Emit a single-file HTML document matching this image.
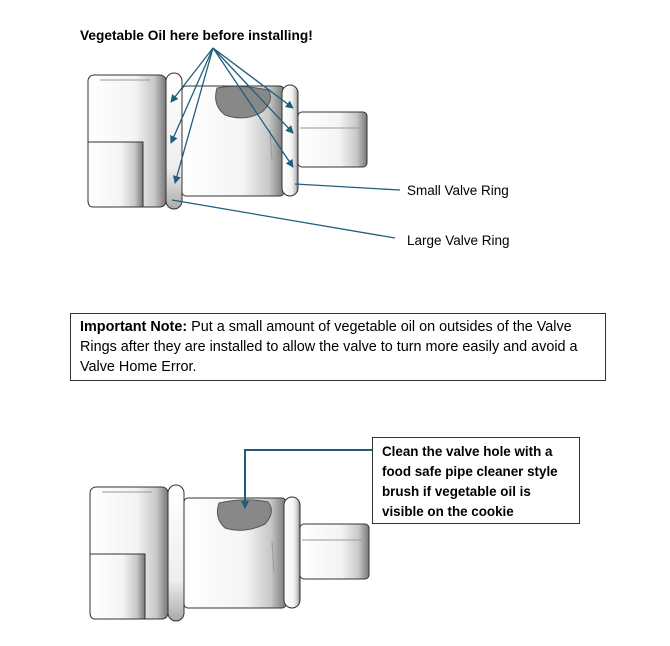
<!DOCTYPE html><html><head><style>body{margin:0;background:#fff}svg{display:block}text{font-family:"Liberation Sans",sans-serif}</style></head><body>
<svg width="670" height="646" viewBox="0 0 670 646" xmlns="http://www.w3.org/2000/svg">
<defs>
<linearGradient id="g" x1="0" x2="1"><stop offset="0" stop-color="#fff"/><stop offset=".6" stop-color="#f4f4f4"/><stop offset=".85" stop-color="#c8c8c8"/><stop offset="1" stop-color="#777"/></linearGradient>
<linearGradient id="gv" x1="0" y1="0" x2="0" y2="1"><stop offset="0" stop-color="#fff"/><stop offset=".7" stop-color="#eee"/><stop offset="1" stop-color="#aaa"/></linearGradient>
<marker id="a" markerWidth="8" markerHeight="8" refX="7" refY="4" orient="auto" markerUnits="userSpaceOnUse"><path d="M0,0L8,4L0,8z" fill="#1f5f7a"/></marker>
<g id="valve" stroke="#333" stroke-width="1">
<rect x="298" y="112" width="69" height="55" rx="4" fill="url(#g)"/>
<rect x="182" y="86" width="102" height="110" rx="4" fill="url(#g)"/>
<rect x="282" y="85" width="16" height="111" rx="8" fill="url(#g)"/>
<rect x="88" y="75" width="78" height="132" rx="6" fill="url(#g)"/>
<path d="M88,142H143V207H93Q88,207 88,200Z" fill="url(#g)"/>
<rect x="166" y="73" width="16" height="136" rx="8" fill="url(#gv)"/>
<line x1="100" y1="80" x2="150" y2="80" stroke="#999"/>
<line x1="300" y1="128" x2="360" y2="128" stroke="#999"/>
<line x1="270" y1="130" x2="272" y2="160" stroke="#999"/>
</g>
</defs>
<text x="80" y="40" font-size="13.7" font-weight="bold">Vegetable Oil here before installing!</text>
<use href="#valve"/>
<path d="M217,88Q240,84 268,90Q275,100 262,112Q245,122 225,115Q212,105 217,88Z" fill="#888" stroke="#555"/>
<g stroke="#1f5f7a" stroke-width="1.3" fill="none" marker-end="url(#a)">
<line x1="213" y1="48" x2="171" y2="102"/><line x1="213" y1="48" x2="171" y2="143"/><line x1="213" y1="48" x2="175" y2="183"/>
<line x1="213" y1="48" x2="293" y2="108"/><line x1="213" y1="48" x2="293" y2="133"/><line x1="213" y1="48" x2="293" y2="167"/>
</g>
<g stroke="#1f5f7a" stroke-width="1.3"><line x1="295" y1="184" x2="400" y2="190"/><line x1="172" y1="200" x2="395" y2="238"/></g>
<text x="407" y="195" font-size="13.5">Small Valve Ring</text>
<text x="407" y="245" font-size="13.5">Large Valve Ring</text>
<rect x="70.5" y="313.5" width="535" height="67" fill="#fff" stroke="#333"/>
<text font-size="14.4"><tspan x="80" y="331"><tspan font-weight="bold">Important Note:</tspan> Put a small amount of vegetable oil on outsides of the Valve</tspan><tspan x="80" y="351">Rings after they are installed to allow the valve to turn more easily and avoid a</tspan><tspan x="80" y="371">Valve Home Error.</tspan></text>
<use href="#valve" transform="translate(2,412)"/>
<path d="M219,503Q245,497 268,502Q276,512 265,524Q245,534 225,528Q214,518 219,503Z" fill="#888" stroke="#555"/>
<polyline points="372,450 245,450 245,508" fill="none" stroke="#1f5f7a" stroke-width="2" marker-end="url(#a)"/>
<rect x="372.5" y="437.5" width="207" height="86" fill="#fff" stroke="#333"/>
<text font-size="13.4" font-weight="bold"><tspan x="382" y="456">Clean the valve hole with a</tspan><tspan x="382" y="476">food safe pipe cleaner style</tspan><tspan x="382" y="496">brush if vegetable oil is</tspan><tspan x="382" y="516">visible on the cookie</tspan></text>
</svg></body></html>
